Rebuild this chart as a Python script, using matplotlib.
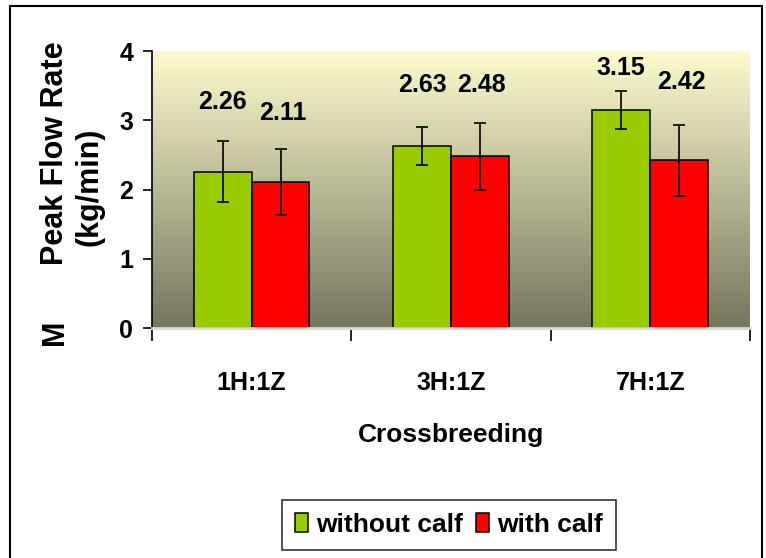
import numpy as np
import matplotlib
matplotlib.use("Agg")
import matplotlib.pyplot as plt
from matplotlib.patches import Rectangle, Patch

# =========================================================
# DATA
# =========================================================

groups = ["1H:1Z", "3H:1Z", "7H:1Z"]
series_names = ["without calf", "with calf"]
without_calf = [2.26, 2.63, 3.15]
with_calf = [2.11, 2.48, 2.42]
without_err = [0.445, 0.28, 0.27]
with_err = [0.48, 0.48, 0.51]

# height where each value label sits (data units)
label_y_without = [3.26, 3.51, 3.75]
label_y_with = [3.10, 3.51, 3.55]

# =========================================================
# STYLE
# =========================================================

GREEN = "#99CC00"
RED = "#FF0000"
BAR_W = 0.29
FONT = ["Liberation Sans", "DejaVu Sans"]

plt.rcParams["font.family"] = FONT
plt.rcParams["font.weight"] = "bold"


def main():
    fig = plt.figure(figsize=(7.66, 5.58), dpi=100)
    ax = fig.add_axes([0.1984, 0.412, 0.7806, 0.4966])

    # gradient wall
    top = np.array([253, 252, 206]) / 255
    bot = np.array([118, 117, 94]) / 255
    t = np.linspace(0, 1, 256)[:, None]
    grad = (top * (1 - t) + bot * t)[:, None, :]
    ax.imshow(grad, extent=[-0.5, 2.5, 0, 4], aspect="auto", zorder=0)

    x = np.arange(len(groups))
    err_kw = dict(ecolor="black", elinewidth=1.2, capsize=4.5, capthick=1.2)
    ax.bar(x - BAR_W / 2, without_calf, BAR_W, color=GREEN, edgecolor="black",
           linewidth=1.1, yerr=without_err, error_kw=err_kw, zorder=2,
           label=series_names[0])
    ax.bar(x + BAR_W / 2, with_calf, BAR_W, color=RED, edgecolor="black",
           linewidth=1.1, yerr=with_err, error_kw=err_kw, zorder=2,
           label=series_names[1])

    for i in range(len(groups)):
        ax.text(x[i] - BAR_W / 2, label_y_without[i], f"{without_calf[i]:.2f}",
                ha="center", va="center", fontsize=18, fontweight="bold")
        ax.text(x[i] + BAR_W / 2 + 0.01, label_y_with[i], f"{with_calf[i]:.2f}",
                ha="center", va="center", fontsize=18, fontweight="bold")

    ax.set_xlim(-0.5, 2.5)
    ax.set_ylim(0, 4)
    ax.set_yticks([0, 1, 2, 3, 4])
    ax.set_xticks(x)
    ax.set_xticklabels(groups)
    ax.set_xticks([-0.5, 0.5, 1.5, 2.5], minor=True)
    ax.tick_params(axis="x", which="major", length=0, pad=31, labelsize=18)
    ax.tick_params(axis="x", which="minor", length=9.5, width=1.2, direction="out")
    ax.tick_params(axis="y", length=6.5, width=1.2, labelsize=18, pad=7)

    for s in ["top", "right"]:
        ax.spines[s].set_visible(False)
    ax.spines["left"].set_linewidth(1.2)
    ax.spines["bottom"].set_color("#d8d8d8")
    ax.spines["bottom"].set_linewidth(2)

    ax.set_xlabel("Crossbreeding", fontsize=19, fontweight="bold", labelpad=20)

    # y label pieces
    fig.text(55 / 766, 1 - 153 / 558, "Peak Flow Rate", rotation=90,
             ha="center", va="center", fontsize=22, fontweight="bold")
    fig.text(89 / 766, 1 - 187 / 558, "(kg/min)", rotation=90,
             ha="center", va="center", fontsize=22, fontweight="bold")
    fig.text(55 / 766, 1 - 332 / 558, "M", rotation=90,
             ha="center", va="center", fontsize=22, fontweight="bold")

    handles = [Patch(facecolor=GREEN, edgecolor="black", linewidth=1.1),
               Patch(facecolor=RED, edgecolor="black", linewidth=1.1)]
    leg = fig.legend(handles, series_names, loc="center",
                     bbox_to_anchor=(449 / 766, 1 - 525 / 558), ncol=2,
                     frameon=True, fancybox=False, edgecolor="black",
                     handlelength=0.5, handleheight=0.75, handletextpad=0.3,
                     columnspacing=0.5, borderpad=0.5, borderaxespad=0,
                     prop=dict(weight="bold", size=19))
    leg.get_frame().set_linewidth(1.2)

    # outer chart border
    fig.patches.append(Rectangle((10 / 766, -0.02), 752 / 766, 1.0146 - 3 / 558,
                                 transform=fig.transFigure, fill=False,
                                 edgecolor="black", linewidth=1.5))

    fig.savefig("out.png", dpi=100)


if __name__ == "__main__":
    main()
